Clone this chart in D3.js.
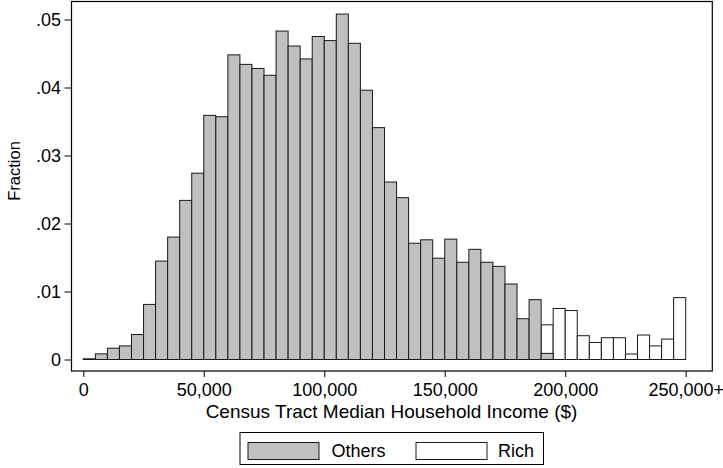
<!DOCTYPE html>
<html><head><meta charset="utf-8">
<script src="https://cdn.jsdelivr.net/npm/d3@7"></script>
<style>body{margin:0;background:#fff}svg{display:block}text{font-family:"Liberation Sans",Arial,sans-serif;fill:#000}</style>
</head><body><svg id="c" width="723" height="468"></svg>
<script>
const binWidth = 5000;
const othersValues = [0.0001,0.00083,0.00166,0.0020,0.00367,0.0081,0.01447,0.0180,0.0234,0.0274,
  0.0359,0.0357,0.0448,0.0434,0.0428,0.0418,0.0483,0.0461,0.0442,0.0475,
  0.0469,0.0508,0.0465,0.0396,0.0341,0.0261,0.0238,0.0171,0.0176,0.0149,
  0.0177,0.0143,0.0162,0.0143,0.0137,0.0111,0.0060,0.0088,0.0009];
const richStartBin = 38;
const richValues = [0.0051,0.0075,0.0072,0.0035,0.0025,0.0032,0.0032,0.0008,0.0036,0.0020,0.0030,0.0091];
const xTicks = [0,50000,100000,150000,200000,250000];
const xTickLabels = ["0","50,000","100,000","150,000","200,000","250,000+"];
const yTicks = [0,0.01,0.02,0.03,0.04,0.05];
const yTickLabels = ["0",".01",".02",".03",".04",".05"];
const legendLabels = ["Others","Rich"];

const svg = d3.select("#c");
const x = d3.scaleLinear().domain([0,250000]).range([83.3,685.7]);
const y = d3.scaleLinear().domain([0,0.05]).range([359.5,19.5]);
const frame = {l:71.5,t:1.5,r:712.3,b:371};
const FS = "18px";

const others = othersValues.map((v,i)=>({x0:i*binWidth,v}));
const rich = richValues.map((v,i)=>({x0:(richStartBin+i)*binWidth,v}));

function drawBars(data, fill){
  svg.append("g").selectAll("rect").data(data).join("rect")
    .attr("x", d=>x(d.x0)).attr("width", d=>x(d.x0+binWidth)-x(d.x0))
    .attr("y", d=>y(d.v)).attr("height", d=>y(0)-y(d.v))
    .attr("fill", fill).attr("stroke","#1a1a1a").attr("stroke-width",1);
}
drawBars(rich, "#ffffff");
drawBars(others, "#c0c0c0");

svg.append("rect").attr("x",frame.l).attr("y",frame.t).attr("width",frame.r-frame.l).attr("height",frame.b-frame.t)
  .attr("fill","none").attr("stroke","#000").attr("stroke-width",1.2);

// y axis
const ya = svg.append("g").attr("transform",`translate(${frame.l},0)`)
  .call(d3.axisLeft(y).tickValues(yTicks).tickFormat((d,i)=>yTickLabels[i]).tickSize(7).tickPadding(3.5));
ya.select(".domain").remove();
ya.selectAll("line").attr("stroke","#000");
ya.selectAll("text").attr("font-size",FS).attr("font-family","Liberation Sans, Arial, sans-serif");

// x axis
const xa = svg.append("g").attr("transform",`translate(0,${frame.b})`)
  .call(d3.axisBottom(x).tickValues(xTicks).tickFormat((d,i)=>xTickLabels[i]).tickSize(6).tickPadding(6));
xa.select(".domain").remove();
xa.selectAll("line").attr("stroke","#000");
xa.selectAll("text").attr("font-size",FS).attr("font-family","Liberation Sans, Arial, sans-serif");

svg.append("text").attr("x",(x(0)+x(250000))/2+7).attr("y",418).attr("text-anchor","middle")
  .attr("font-size","19px").text("Census Tract Median Household Income ($)");
svg.append("text").attr("transform","translate(20,171) rotate(-90)").attr("text-anchor","middle")
  .attr("font-size","16.5px").text("Fraction");

// legend
const lg = svg.append("g");
lg.append("rect").attr("x",240).attr("y",432.5).attr("width",303.5).attr("height",32).attr("fill","#fff").attr("stroke","#000").attr("stroke-width",1);
const items = [{label:legendLabels[0],fill:"#c0c0c0",sx:248,tx:331.5},{label:legendLabels[1],fill:"#fff",sx:416,tx:498}];
items.forEach(it=>{
  lg.append("rect").attr("x",it.sx).attr("y",442.5).attr("width",71).attr("height",17).attr("fill",it.fill).attr("stroke","#1a1a1a");
  lg.append("text").attr("x",it.tx).attr("y",457).attr("font-size",FS).text(it.label);
});
</script></body></html>
